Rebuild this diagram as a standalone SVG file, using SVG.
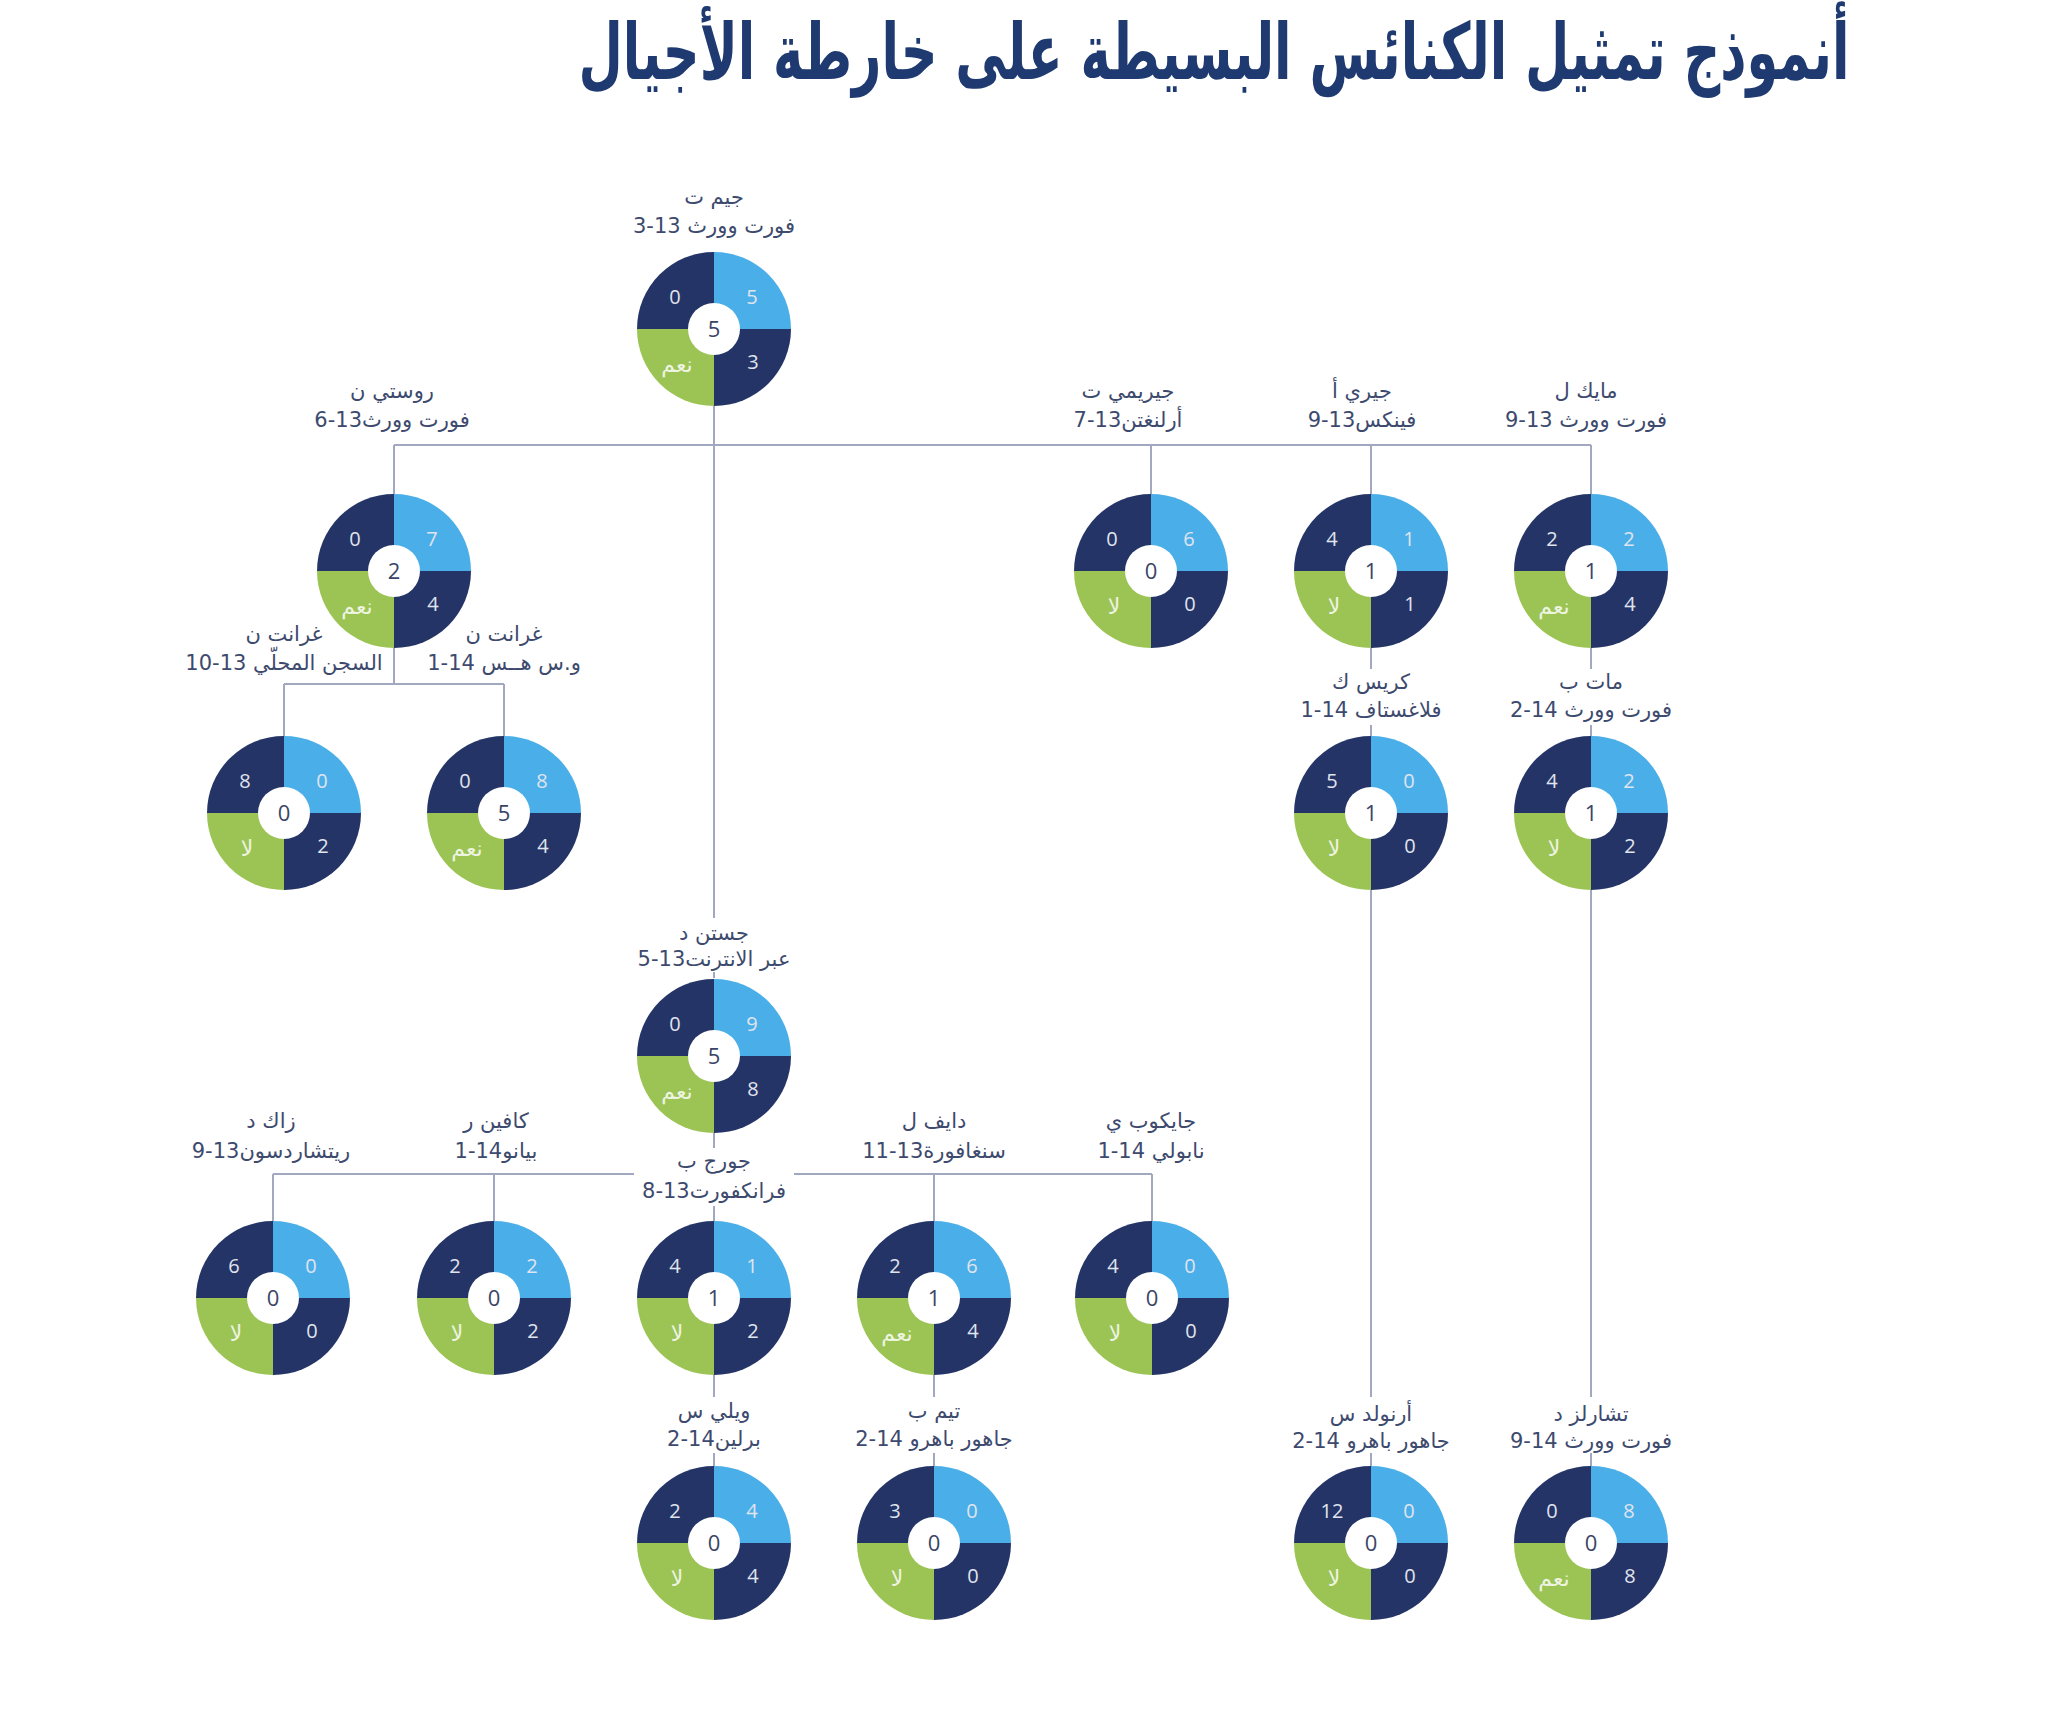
<svg xmlns="http://www.w3.org/2000/svg" xmlns:xlink="http://www.w3.org/1999/xlink" width="2056" height="1710" viewBox="0 0 2056 1710">
<style>
.dk{fill:#243466}
.lb{fill:#4aaee8}
.gr{fill:#9cc455}
.hole{fill:#ffffff}
.q{font-family:"Open Sans","DejaVu Sans",sans-serif;font-size:20px;fill:#e0e4ef;text-anchor:middle}
.qa{font-family:"DejaVu Sans",sans-serif;font-size:22px;fill:#eef4e2;text-anchor:middle;direction:rtl}
.c{font-family:"Open Sans","DejaVu Sans",sans-serif;font-size:22px;fill:#3a4566;text-anchor:middle}
.lab{font-family:"DejaVu Sans","Open Sans",sans-serif;font-size:21px;fill:#3d4a6e;text-anchor:middle;direction:rtl}
.lab2{font-family:"DejaVu Sans","Open Sans",sans-serif;font-size:21px;fill:#3d4a6e;text-anchor:middle;direction:ltr}
.bg{fill:#ffffff}
.ln{stroke:#a2a8c0;stroke-width:2;fill:none}
.title{font-family:"DejaVu Sans",sans-serif;font-weight:bold;font-size:78px;fill:#1e3a70;text-anchor:middle;direction:rtl}
</style>
<defs>
<path id="qTL" d="M0,0 L-77,0 A77,77 0 0 1 0,-77 Z"/>
<path id="qTR" d="M0,0 L0,-77 A77,77 0 0 1 77,0 Z"/>
<path id="qBR" d="M0,0 L77,0 A77,77 0 0 1 0,77 Z"/>
<path id="qBL" d="M0,0 L0,77 A77,77 0 0 1 -77,0 Z"/>
<g id="donutY">
<use xlink:href="#qTL" class="dk"/><use xlink:href="#qTR" class="lb"/><use xlink:href="#qBR" class="dk"/><use xlink:href="#qBL" class="gr"/><circle r="26" class="hole"/>
</g>
</defs>
<rect width="2056" height="1710" fill="#ffffff"/>
<text class="title" transform="translate(1214,79) scale(0.655,1)" x="0" y="0">أنموذج تمثيل الكنائس البسيطة على خارطة الأجيال</text>

<g id="connectors">
<path class="ln" d="M714,406 V978"/>
<path class="ln" d="M394,445 H1591"/>
<path class="ln" d="M394,445 V494 M1151,445 V494 M1371,445 V494 M1591,445 V494"/>
<path class="ln" d="M394,648 V684 M284,684 H504 M284,684 V736 M504,684 V736"/>
<path class="ln" d="M1371,648 V736 M1591,648 V736"/>
<path class="ln" d="M1371,890 V1466 M1591,890 V1466"/>
<path class="ln" d="M714,1133 V1221 M273,1174 H1152 M273,1174 V1221 M494,1174 V1221 M934,1174 V1221 M1152,1174 V1221"/>
<path class="ln" d="M714,1375 V1466 M934,1375 V1466"/>
</g>

<g id="n1" transform="translate(714,329)">
<use xlink:href="#donutY"/>
<text class="q" x="-39" y="-25">0</text><text class="q" x="38" y="-25">5</text><text class="q" x="39" y="40">3</text><text class="qa" x="-37" y="43">نعم</text><text class="c" y="8">5</text>
<text class="lab" x="0" y="-125">جيم ت</text><text class="lab2" x="0" y="-96">3-13 فورت وورث</text>
</g>

<g id="n2" transform="translate(394,571)">
<use xlink:href="#donutY"/>
<text class="q" x="-39" y="-25">0</text><text class="q" x="38" y="-25">7</text><text class="q" x="39" y="40">4</text><text class="qa" x="-37" y="43">نعم</text><text class="c" y="8">2</text>
<text class="lab" x="-2" y="-173">روستي ن</text><text class="lab2" x="-2" y="-144">6-13فورت وورث</text>
</g>

<g id="n3" transform="translate(1151,571)">
<use xlink:href="#donutY"/>
<text class="q" x="-39" y="-25">0</text><text class="q" x="38" y="-25">6</text><text class="q" x="39" y="40">0</text><text class="qa" x="-37" y="43">لا</text><text class="c" y="8">0</text>
<text class="lab" x="-23" y="-173">جيريمي ت</text><text class="lab2" x="-23" y="-144">7-13أرلنغتن</text>
</g>

<g id="n4" transform="translate(1371,571)">
<use xlink:href="#donutY"/>
<text class="q" x="-39" y="-25">4</text><text class="q" x="38" y="-25">1</text><text class="q" x="39" y="40">1</text><text class="qa" x="-37" y="43">لا</text><text class="c" y="8">1</text>
<text class="lab" x="-9" y="-173">جيري أ</text><text class="lab2" x="-9" y="-144">9-13فينكس</text>
</g>

<g id="n5" transform="translate(1591,571)">
<use xlink:href="#donutY"/>
<text class="q" x="-39" y="-25">2</text><text class="q" x="38" y="-25">2</text><text class="q" x="39" y="40">4</text><text class="qa" x="-37" y="43">نعم</text><text class="c" y="8">1</text>
<text class="lab" x="-5" y="-173">مايك ل</text><text class="lab2" x="-5" y="-144">9-13 فورت وورث</text>
</g>

<g id="n6" transform="translate(284,813)">
<use xlink:href="#donutY"/>
<text class="q" x="-39" y="-25">8</text><text class="q" x="38" y="-25">0</text><text class="q" x="39" y="40">2</text><text class="qa" x="-37" y="43">لا</text><text class="c" y="8">0</text>
<text class="lab" x="0" y="-172">غرانت ن</text><text class="lab2" x="0" y="-143">10-13 السجن المحلّي</text>
</g>

<g id="n7" transform="translate(504,813)">
<use xlink:href="#donutY"/>
<text class="q" x="-39" y="-25">0</text><text class="q" x="38" y="-25">8</text><text class="q" x="39" y="40">4</text><text class="qa" x="-37" y="43">نعم</text><text class="c" y="8">5</text>
<text class="lab" x="0" y="-172">غرانت ن</text><text class="lab2" x="0" y="-143">1-14 و.س هــس</text>
</g>

<g id="n8" transform="translate(1371,813)">
<use xlink:href="#donutY"/>
<text class="q" x="-39" y="-25">5</text><text class="q" x="38" y="-25">0</text><text class="q" x="39" y="40">0</text><text class="qa" x="-37" y="43">لا</text><text class="c" y="8">1</text>
<rect class="bg" x="-80" y="-144" width="160" height="56"/>
<text class="lab" x="0" y="-124">كريس ك</text><text class="lab2" x="0" y="-96">1-14 فلاغستاف</text>
</g>

<g id="n9" transform="translate(1591,813)">
<use xlink:href="#donutY"/>
<text class="q" x="-39" y="-25">4</text><text class="q" x="38" y="-25">2</text><text class="q" x="39" y="40">2</text><text class="qa" x="-37" y="43">لا</text><text class="c" y="8">1</text>
<rect class="bg" x="-80" y="-144" width="160" height="56"/>
<text class="lab" x="0" y="-124">مات ب</text><text class="lab2" x="0" y="-96">2-14 فورت وورث</text>
</g>

<g id="n10" transform="translate(714,1056)">
<use xlink:href="#donutY"/>
<text class="q" x="-39" y="-25">0</text><text class="q" x="38" y="-25">9</text><text class="q" x="39" y="40">8</text><text class="qa" x="-37" y="43">نعم</text><text class="c" y="8">5</text>
<rect class="bg" x="-80" y="-138" width="160" height="54"/>
<text class="lab" x="0" y="-116">جستن د</text><text class="lab2" x="0" y="-90">5-13عبر الانترنت</text>
</g>

<g id="n11" transform="translate(273,1298)">
<use xlink:href="#donutY"/>
<text class="q" x="-39" y="-25">6</text><text class="q" x="38" y="-25">0</text><text class="q" x="39" y="40">0</text><text class="qa" x="-37" y="43">لا</text><text class="c" y="8">0</text>
<text class="lab" x="-2" y="-170">زاك د</text><text class="lab2" x="-2" y="-140">9-13ريتشاردسون</text>
</g>

<g id="n12" transform="translate(494,1298)">
<use xlink:href="#donutY"/>
<text class="q" x="-39" y="-25">2</text><text class="q" x="38" y="-25">2</text><text class="q" x="39" y="40">2</text><text class="qa" x="-37" y="43">لا</text><text class="c" y="8">0</text>
<text class="lab" x="2" y="-170">كافين ر</text><text class="lab2" x="2" y="-140">1-14بيانو</text>
</g>

<g id="n13" transform="translate(714,1298)">
<use xlink:href="#donutY"/>
<text class="q" x="-39" y="-25">4</text><text class="q" x="38" y="-25">1</text><text class="q" x="39" y="40">2</text><text class="qa" x="-37" y="43">لا</text><text class="c" y="8">1</text>
<rect class="bg" x="-80" y="-150" width="160" height="58"/>
<text class="lab" x="0" y="-130">جورج ب</text><text class="lab2" x="0" y="-100">8-13فرانكفورت</text>
</g>

<g id="n14" transform="translate(934,1298)">
<use xlink:href="#donutY"/>
<text class="q" x="-39" y="-25">2</text><text class="q" x="38" y="-25">6</text><text class="q" x="39" y="40">4</text><text class="qa" x="-37" y="43">نعم</text><text class="c" y="8">1</text>
<text class="lab" x="0" y="-170">دايف ل</text><text class="lab2" x="0" y="-140">11-13سنغافورة</text>
</g>

<g id="n15" transform="translate(1152,1298)">
<use xlink:href="#donutY"/>
<text class="q" x="-39" y="-25">4</text><text class="q" x="38" y="-25">0</text><text class="q" x="39" y="40">0</text><text class="qa" x="-37" y="43">لا</text><text class="c" y="8">0</text>
<text class="lab" x="-1" y="-170">جايكوب ي</text><text class="lab2" x="-1" y="-140">1-14 نابولي</text>
</g>

<g id="n16" transform="translate(714,1543)">
<use xlink:href="#donutY"/>
<text class="q" x="-39" y="-25">2</text><text class="q" x="38" y="-25">4</text><text class="q" x="39" y="40">4</text><text class="qa" x="-37" y="43">لا</text><text class="c" y="8">0</text>
<rect class="bg" x="-80" y="-146" width="160" height="56"/>
<text class="lab" x="0" y="-125">ويلي س</text><text class="lab2" x="0" y="-97">2-14برلين</text>
</g>

<g id="n17" transform="translate(934,1543)">
<use xlink:href="#donutY"/>
<text class="q" x="-39" y="-25">3</text><text class="q" x="38" y="-25">0</text><text class="q" x="39" y="40">0</text><text class="qa" x="-37" y="43">لا</text><text class="c" y="8">0</text>
<rect class="bg" x="-80" y="-146" width="160" height="56"/>
<text class="lab" x="0" y="-125">تيم ب</text><text class="lab2" x="0" y="-97">2-14 جاهور باهرو</text>
</g>

<g id="n18" transform="translate(1371,1543)">
<use xlink:href="#donutY"/>
<text class="q" x="-39" y="-25">12</text><text class="q" x="38" y="-25">0</text><text class="q" x="39" y="40">0</text><text class="qa" x="-37" y="43">لا</text><text class="c" y="8">0</text>
<rect class="bg" x="-80" y="-146" width="160" height="56"/>
<text class="lab" x="0" y="-122">أرنولد س</text><text class="lab2" x="0" y="-95">2-14 جاهور باهرو</text>
</g>

<g id="n19" transform="translate(1591,1543)">
<use xlink:href="#donutY"/>
<text class="q" x="-39" y="-25">0</text><text class="q" x="38" y="-25">8</text><text class="q" x="39" y="40">8</text><text class="qa" x="-37" y="43">نعم</text><text class="c" y="8">0</text>
<rect class="bg" x="-80" y="-146" width="160" height="56"/>
<text class="lab" x="0" y="-122">تشارلز د</text><text class="lab2" x="0" y="-95">9-14 فورت وورث</text>
</g>
</svg>
